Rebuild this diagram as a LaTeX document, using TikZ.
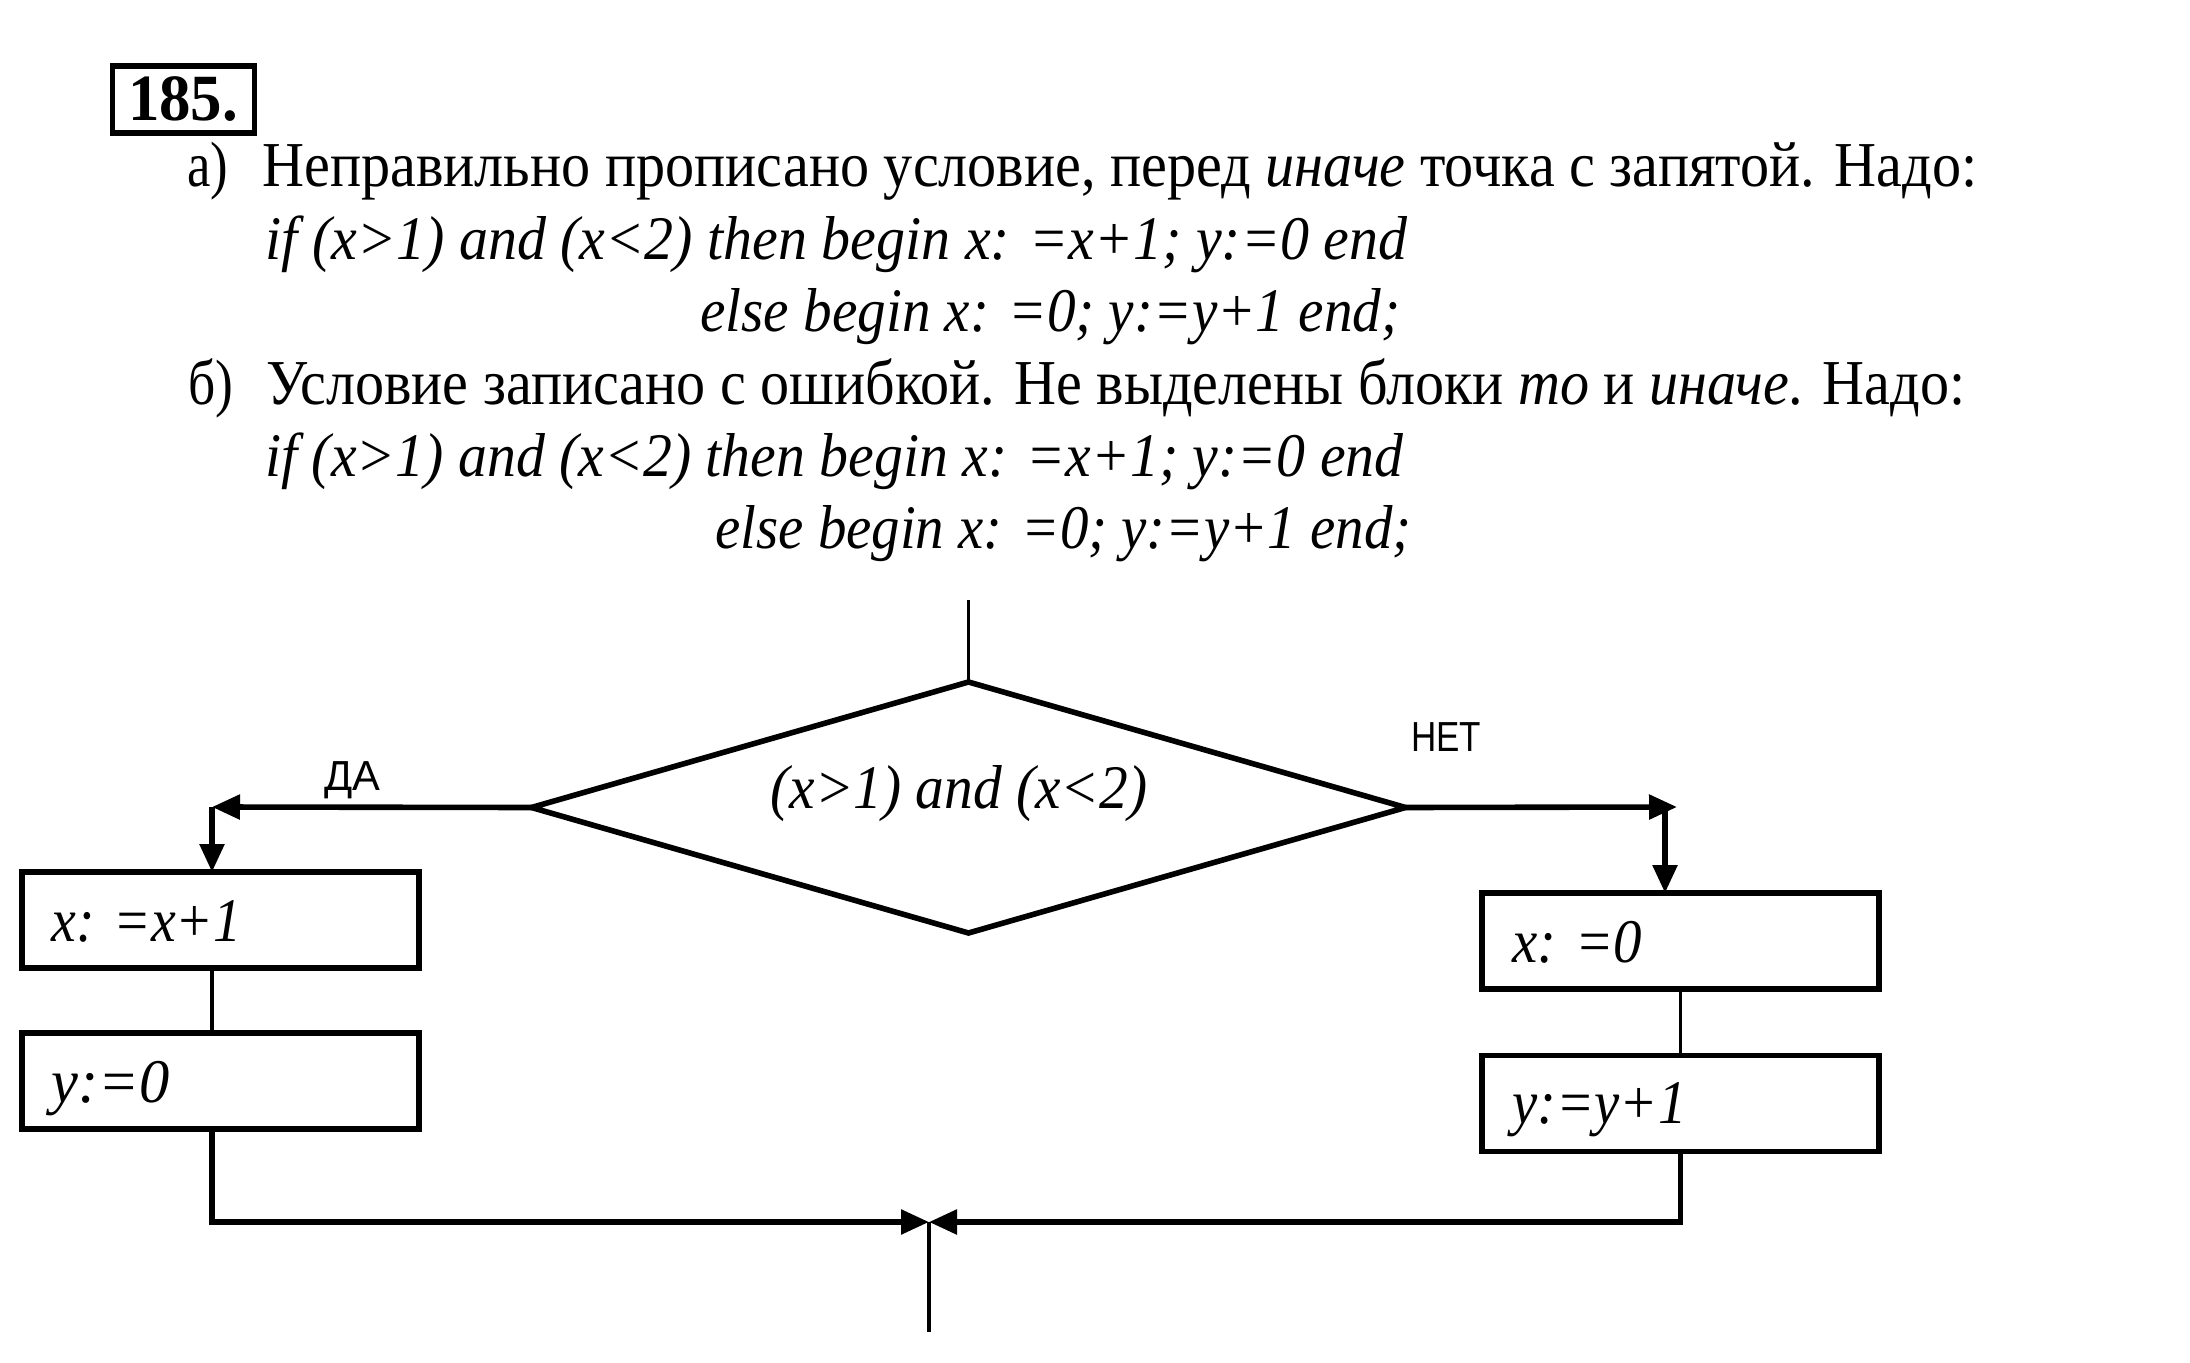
\documentclass[tikz,border=0pt]{standalone}
\usepackage{fontspec}
\setmainfont{Liberation Serif}
\newfontfamily\lsans{Liberation Sans}
\usetikzlibrary{shapes.geometric,arrows.meta}
\newsavebox\fitbox
\newcommand\fitw[2]{\sbox\fitbox{#2}\pgfmathsetmacro\fitfac{#1/\the\wd\fitbox}\scalebox{\fitfac}[1]{\usebox\fitbox}}
\begin{document}
\begin{tikzpicture}[x=0.5pt,y=-0.5pt,
  txt/.style={inner sep=0, anchor=base west, font=\fontsize{32}{38}\selectfont},
  code/.style={inner sep=0, anchor=base west, font=\fontsize{31}{36}\selectfont\itshape},
  procbox/.style={draw, line width=2.8pt, minimum width=198.5pt, minimum height=48pt, inner sep=0, outer sep=0},
  flow/.style={line width=2.8pt},
  thinline/.style={line width=1.8pt},
  arr/.style={-{Triangle[length=14pt,width=12pt]}},
  lab/.style={inner sep=0, anchor=base, font=\lsans\fontsize{21}{24}\selectfont}]
\useasboundingbox (0,0) rectangle (2190,1363);
\fill[white] (0,0) rectangle (2190,1363);

% task number
\node[draw, line width=2.6pt, minimum width=71pt, minimum height=33.5pt, inner sep=0] (numbox) at (183.5,99.5) {};
\node[inner sep=0, anchor=base] (num) at (183,121) {\fitw{55}{\bfseries\fontsize{33}{33}\selectfont 185.}};

% part a
\node[txt] (la) at (187,187) {\fitw{20.5}{а)}};
\node[txt] (ta) at (262,187) {\fitw{857.5}{Неправильно прописано условие, перед \textit{иначе} точка с запятой. Надо:}};
\node[code] (ca1) at (265,260) {\fitw{571}{if (x>1) and (x<2) then begin x: =x+1; y:=0 end}};
\node[code] (ca2) at (700,332) {\fitw{350}{else begin x: =0; y:=y+1 end;}};

% part b
\node[txt] (lb) at (188,405) {\fitw{22.5}{б)}};
\node[txt] (tb) at (266,405) {\fitw{849.5}{Условие записано с ошибкой. Не выделены блоки \textit{то} и \textit{иначе}. Надо:}};
\node[code] (cb1) at (265,477) {\fitw{569}{if (x>1) and (x<2) then begin x: =x+1; y:=0 end}};
\node[code] (cb2) at (715,549) {\fitw{348}{else begin x: =0; y:=y+1 end;}};

% flowchart
\coordinate (topp) at (968.5,600);
\node[diamond, draw, flow, minimum width=437pt, minimum height=125.5pt, inner sep=0, outer sep=0] (d) at (968.5,807.5) {};
\node[code] (cond) at (770,808) {\fitw{188.5}{(x>1) and (x<2)}};

\node[procbox] (b1) at (220.5,920) {};
\node[procbox] (b2) at (220.5,1081) {};
\node[procbox] (b3) at (1680.5,941) {};
\node[procbox] (b4) at (1680.5,1103.5) {};
\node[code] (t1) at (51,941) {\fitw{95}{x: =x+1}};
\node[code] (t2) at (51,1102) {\fitw{59}{y:=0}};
\node[code] (t3) at (1512,962) {\fitw{65}{x: =0}};
\node[code] (t4) at (1512,1123) {\fitw{87}{y:=y+1}};

\node[lab] (yes) at (352,790) {\fitw{28}{ДА}};
\node[lab] (no) at (1446,751) {\fitw{35}{НЕТ}};

\coordinate (lc) at (212,807);
\coordinate (rt) at (1677,807);
\coordinate (rc) at (1665,807);
\coordinate (j) at (929,1222);
\coordinate (endp) at (929,1332);

\draw[thinline] (topp) -- (d.north);
\draw[flow,arr] (d.west) -- (lc);
\draw[flow,arr] (lc) -- (b1.north -| lc);
\draw[thinline] (b1.south -| lc) -- (b2.north -| lc);
\draw[flow,arr] (b2.south -| lc) |- (j);
\draw[flow,arr] (d.east) -- (rt);
\draw[flow,arr] (rc) -- (b3.north -| rc);
\draw[thinline] (b3.south) -- (b4.north);
\draw[flow,arr] (b4.south) |- (j);
\draw[thinline] (j) -- (endp);
\end{tikzpicture}
\end{document}
